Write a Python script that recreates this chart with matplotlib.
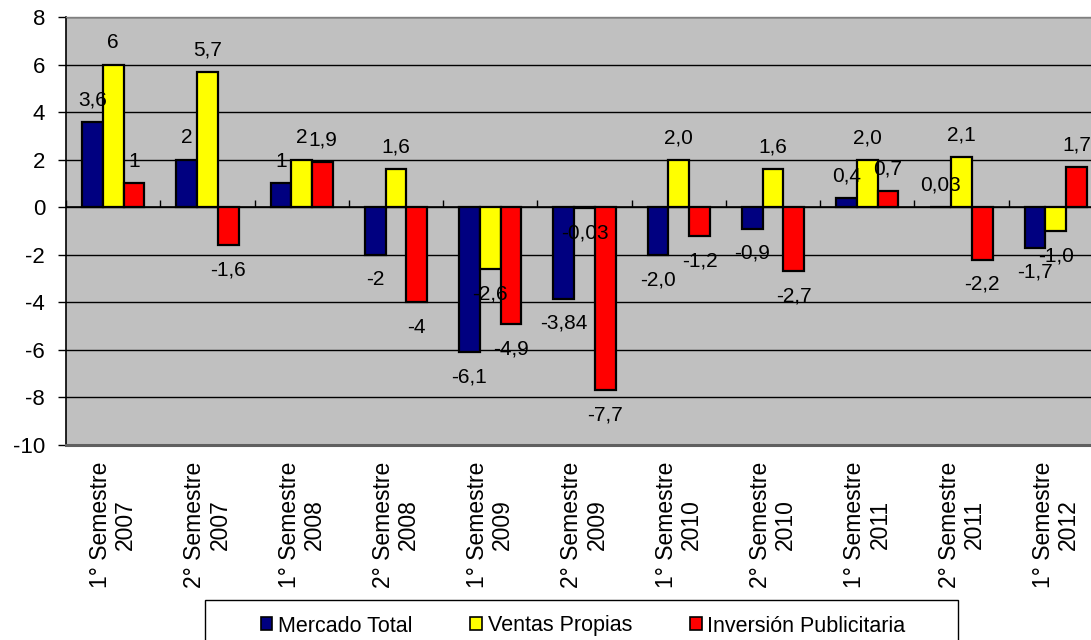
import numpy as np
import matplotlib
matplotlib.use("Agg")
import matplotlib.pyplot as plt
from matplotlib.patches import Patch, Rectangle

plt.rcParams['font.family'] = ['Liberation Sans', 'DejaVu Sans']
plt.rcParams['axes.unicode_minus'] = False

categories = [
    "1° Semestre\n2007", "2° Semestre\n2007", "1° Semestre\n2008", "2° Semestre\n2008",
    "1° Semestre\n2009", "2° Semestre\n2009", "1° Semestre\n2010", "2° Semestre\n2010",
    "1° Semestre\n2011", "2° Semestre\n2011", "1° Semestre\n2012",
]
series_names = ["Mercado Total", "Ventas Propias", "Inversión Publicitaria"]
mercado_total = [3.6, 2, 1, -2, -6.1, -3.84, -2.0, -0.9, 0.4, 0.03, -1.7]
ventas_propias = [6, 5.7, 2, 1.6, -2.6, -0.03, 2.0, 1.6, 2.0, 2.1, -1.0]
inversion_publicitaria = [1, -1.6, 1.9, -4, -4.9, -7.7, -1.2, -2.7, 0.7, -2.2, 1.7]
mercado_labels = ["3,6", "2", "1", "-2", "-6,1", "-3,84", "-2,0", "-0,9", "0,4", "0,03", "-1,7"]
ventas_labels = ["6", "5,7", "2", "1,6", "-2,6", "-0,03", "2,0", "1,6", "2,0", "2,1", "-1,0"]
inversion_labels = ["1", "-1,6", "1,9", "-4", "-4,9", "-7,7", "-1,2", "-2,7", "0,7", "-2,2", "1,7"]
y_ticks = list(range(-10, 9, 2))

colors = ["#000080", "#FFFF00", "#FF0000"]

W, H = 1091, 640
fig = plt.figure(figsize=(W / 100, H / 100), dpi=100)
fig.patch.set_facecolor("white")

left, right, top, bottom = 66, 1103, 17, 445
ax = fig.add_axes([left / W, 1 - bottom / H, (right - left) / W, (bottom - top) / H])
ax.set_facecolor("#C0C0C0")

n = len(categories)
x = np.arange(n)
bw = 0.22
offsets = [-bw, 0, bw]
all_values = [mercado_total, ventas_propias, inversion_publicitaria]
all_labels = [mercado_labels, ventas_labels, inversion_labels]

ax.set_xlim(-0.5, n - 0.5)
ax.set_ylim(-10, 8)
ax.set_yticks(y_ticks)
ax.set_yticklabels([str(t) for t in y_ticks], fontsize=16)
ax.yaxis.grid(True, color="black", linewidth=1.0)
ax.set_axisbelow(True)

for vals, labs, off, col, name in zip(all_values, all_labels, offsets, colors, series_names):
    ax.bar(x + off, vals, width=bw, color=col, edgecolor="black", linewidth=1.6,
           label=name, zorder=3)
    for xi, v, lab in zip(x + off, vals, labs):
        if v >= 0:
            ax.annotate(lab, (xi, v), xytext=(0, 9), textcoords="offset points",
                        ha="center", va="bottom", fontsize=15, zorder=5)
        else:
            ax.annotate(lab, (xi, v), xytext=(0, -11), textcoords="offset points",
                        ha="center", va="top", fontsize=15, zorder=5)

# category labels under the plot area
ax.set_xticks(x)
ax.set_xticklabels(categories, rotation=90, fontsize=16.5, linespacing=1.12,
                   ha="center", va="top", multialignment="center")
ax.tick_params(axis="x", length=0, pad=12)
ax.tick_params(axis="y", length=6, direction="out", width=1, pad=9)

# zero axis with tick marks at category boundaries
ax.axhline(0, color="black", linewidth=1.2, zorder=4)
zero_ax = ax.secondary_xaxis(10 / 18)
zero_ax.set_xticks(np.arange(-0.5, n, 1.0))
zero_ax.set_xticklabels([])
zero_ax.tick_params(axis="x", direction="out", length=5, width=1, color="black")
zero_ax.spines["bottom"].set_visible(False)
zero_ax.spines["top"].set_visible(False)

ax.spines["left"].set_color("black")
ax.spines["left"].set_linewidth(1.2)
ax.spines["bottom"].set_color("#606060")
ax.spines["bottom"].set_linewidth(2.2)
ax.spines["top"].set_color("#808080")
ax.spines["top"].set_linewidth(1.0)
ax.spines["right"].set_visible(False)

# legend box (runs past the lower edge of the figure)
fig.patches.append(Rectangle((205 / W, 1 - 660 / H), 753 / W, 60 / H,
                             transform=fig.transFigure, facecolor="white",
                             edgecolor="black", linewidth=1.0, zorder=1))
handles = [Patch(facecolor=c, edgecolor="black", linewidth=1.2) for c in colors]
leg = fig.legend(handles, series_names, loc="center",
                 bbox_to_anchor=(583 / W, 1 - 626 / H),
                 bbox_transform=fig.transFigure, ncol=3, frameon=False,
                 borderpad=0, handlelength=0.55, handleheight=0.55,
                 handletextpad=0.25, columnspacing=2.7,
                 prop={"size": 15.5})
leg.set_zorder(2)

fig.savefig("out.png", dpi=100, facecolor="white")
